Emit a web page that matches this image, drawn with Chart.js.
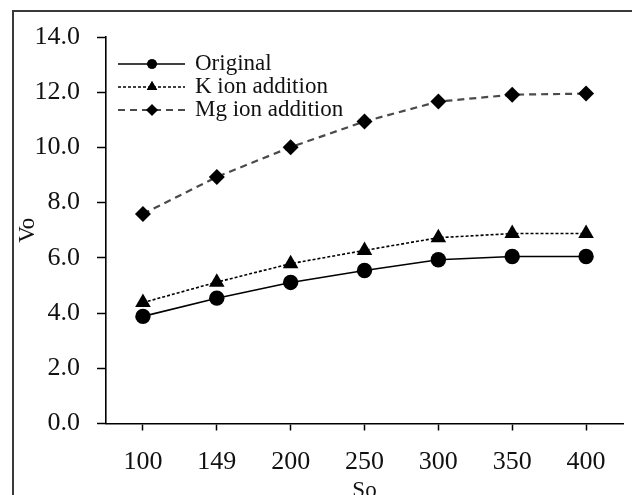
<!DOCTYPE html>
<html>
<head>
<meta charset="utf-8">
<script src="https://cdn.jsdelivr.net/npm/chart.js@4"></script>
<style>
html,body{margin:0;padding:0;background:#fff;}
#wrap{position:relative;width:632px;height:495px;}
canvas{display:block;}
</style>
</head>
<body>
<div id="wrap"><canvas id="c" width="632" height="495"></canvas></div>
<script>
const categories = ['100','149','200','250','300','350','400'];
const original = [3.88, 4.54, 5.11, 5.54, 5.93, 6.05, 6.05];
const kIon = [4.38, 5.12, 5.79, 6.27, 6.73, 6.88, 6.88];
const mgIon = [7.59, 8.93, 10.01, 10.94, 11.66, 11.91, 11.95];
const seriesNames = ['Original', 'K ion addition', 'Mg ion addition'];
const yTicks = [0, 2, 4, 6, 8, 10, 12, 14];

const SERIF = '"Liberation Serif", "Times New Roman", serif';

const frame = {
  id: 'frame',
  beforeDraw(chart) {
    const ctx = chart.ctx;
    ctx.save();
    ctx.strokeStyle = '#3a3a3a';
    ctx.lineWidth = 2;
    ctx.beginPath();
    ctx.moveTo(13, 500);
    ctx.lineTo(13, 11);
    ctx.lineTo(640, 11);
    ctx.stroke();
    ctx.restore();
  }
};

const legendLines = {
  id: 'legendLines',
  afterDraw(chart) {
    const ctx = chart.ctx;
    const x0 = 118, x1 = 185, xm = 152, tx = 195;
    const rows = [64, 87, 110];
    const sizes = [4.8, 6, 5.8];
    chart.data.datasets.forEach((ds, i) => {
      const y = rows[i];
      ctx.save();
      ctx.strokeStyle = ds.borderColor;
      ctx.lineWidth = ds.borderWidth;
      ctx.setLineDash(ds.borderDash || []);
      ctx.beginPath();
      ctx.moveTo(x0, y);
      ctx.lineTo(x1, y);
      ctx.stroke();
      ctx.setLineDash([]);
      Chart.helpers.drawPoint(ctx, {pointStyle: ds.pointStyle, radius: sizes[i], borderWidth: 0}, xm, y);
      ctx.fillStyle = '#000';
      ctx.fill();
      ctx.fillStyle = '#111';
      ctx.font = '23px ' + SERIF;
      ctx.textBaseline = 'middle';
      ctx.textAlign = 'left';
      ctx.fillText(ds.label, tx, y);
      ctx.restore();
    });
  }
};

new Chart(document.getElementById('c'), {
  type: 'line',
  data: {
    labels: categories,
    datasets: [
      {label: seriesNames[0], data: original, borderColor: '#000', backgroundColor: '#000',
       borderWidth: 1.6, pointStyle: 'circle', pointRadius: 7.7, pointBorderWidth: 0, tension: 0},
      {label: seriesNames[1], data: kIon, borderColor: '#000', backgroundColor: '#000',
       borderWidth: 1.6, borderDash: [3, 2], pointStyle: 'triangle', pointRadius: 9, pointBorderWidth: 0, tension: 0},
      {label: seriesNames[2], data: mgIon, borderColor: '#4a4a4a', backgroundColor: '#000',
       borderWidth: 2.2, borderDash: [7, 5], pointStyle: 'rectRot', pointRadius: 8, pointBorderWidth: 0, tension: 0}
    ]
  },
  options: {
    responsive: false,
    animation: false,
    devicePixelRatio: 1,
    layout: {padding: {left: 14, right: 7, top: 37, bottom: 0}},
    plugins: {legend: {display: false}, tooltip: {enabled: false}},
    scales: {
      x: {
        type: 'category',
        offset: true,
        grid: {display: true, drawOnChartArea: false, drawTicks: true, tickLength: 7, tickColor: '#000', tickWidth: 1.5, offset: false},
        border: {display: true, color: '#000', width: 1.6},
        ticks: {color: '#111', font: {family: SERIF, size: 26}, padding: 16, maxRotation: 0},
        title: {display: true, text: 'So', color: '#111', font: {family: SERIF, size: 23, lineHeight: 1}, padding: {top: 0, bottom: -7}},
        afterFit(s) { s.height = 495 - 423.5; }
      },
      y: {
        min: 0, max: 14,
        afterBuildTicks(s) { s.ticks = yTicks.map(v => ({value: v})); },
        grid: {display: true, drawOnChartArea: false, drawTicks: true, tickLength: 9, tickColor: '#000', tickWidth: 1.5},
        border: {display: true, color: '#000', width: 1.6},
        ticks: {color: '#111', font: {family: SERIF, size: 26}, padding: 17, callback: v => Number(v).toFixed(1)},
        title: {display: true, text: 'Vo', color: '#111', font: {family: SERIF, size: 23}, padding: {top: 0, bottom: 0}},
        afterFit(s) { s.width = 106 - 14; }
      }
    }
  },
  plugins: [frame, legendLines]
});
</script>
</body>
</html>
